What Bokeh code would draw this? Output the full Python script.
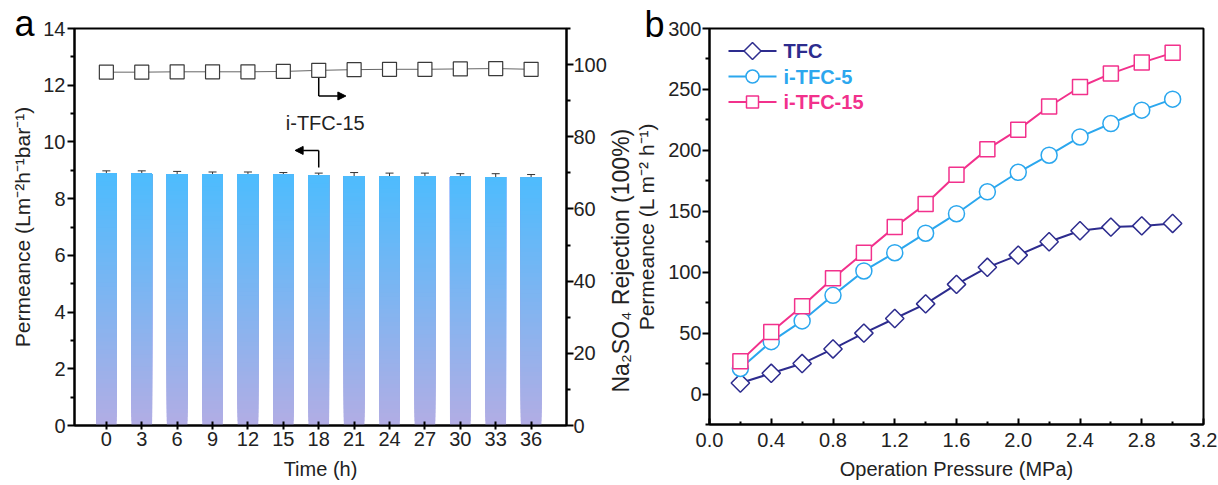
import math
from bokeh.plotting import figure
from bokeh.models import (Range1d, LinearAxis, FixedTicker, Whisker, TeeHead, Arrow,
                          NormalHead, Label, Title, ColumnDataSource, PrintfTickFormatter)
from bokeh.layouts import row
from bokeh.embed import file_html
from bokeh.resources import INLINE

# ---------------- data: panel a ----------------
time_h = [0, 3, 6, 9, 12, 15, 18, 21, 24, 27, 30, 33, 36]
permeance = [8.90, 8.88, 8.87, 8.86, 8.85, 8.84, 8.83, 8.80, 8.79, 8.78, 8.77, 8.76, 8.74]
permeance_err = [0.08, 0.10, 0.09, 0.08, 0.09, 0.08, 0.07, 0.12, 0.11, 0.12, 0.11, 0.12, 0.11]
rejection = [97.9, 97.9, 98.0, 98.0, 98.0, 98.1, 98.4, 98.6, 98.7, 98.7, 98.8, 98.9, 98.7]
rejection_err = [1.0, 1.0, 0.9, 1.0, 0.9, 1.0, 1.0, 1.1, 1.0, 1.1, 1.0, 0.0, 1.0]
time_ticks = [0, 3, 6, 9, 12, 15, 18, 21, 24, 27, 30, 33, 36]

# ---------------- data: panel b ----------------
pressure = [0.2, 0.4, 0.6, 0.8, 1.0, 1.2, 1.4, 1.6, 1.8, 2.0, 2.2, 2.4, 2.6, 2.8, 3.0]
tfc = [9, 17, 25, 37, 50, 62, 74, 90, 104, 114, 125, 134, 137, 138, 140]
tfc_err = [4, 4, 4, 4, 4, 4, 4, 4, 4, 4, 4, 4, 4, 4, 4]
itfc5 = [21, 43, 60, 81, 101, 116, 132, 148, 166, 182, 196, 211, 222, 233, 242]
itfc5_err = [3, 4, 4, 4, 4, 3, 4, 4, 4, 4, 3, 4, 4, 4, 4]
itfc15 = [27, 51, 72, 95, 116, 137, 156, 180, 201, 217, 236, 252, 263, 272, 280]
itfc15_err = [4, 4, 4, 4, 4, 4, 4, 4, 4, 4, 4, 4, 4, 4, 4]
series_names = ["TFC", "i-TFC-5", "i-TFC-15"]

FONT = "Liberation Sans"
TXT = "#222222"


def style_axis(ax, tick_out=7, tick_in=0, minor_out=4, minor_in=0):
    ax.axis_line_width = 2
    ax.axis_line_color = "black"
    ax.major_tick_line_color = "black"
    ax.major_tick_line_width = 2
    ax.minor_tick_line_color = "black"
    ax.minor_tick_line_width = 2
    ax.major_tick_out = tick_out
    ax.major_tick_in = tick_in
    ax.minor_tick_out = minor_out
    ax.minor_tick_in = minor_in
    ax.major_label_text_font = FONT
    ax.major_label_text_font_size = "20px"
    ax.major_label_text_color = TXT
    ax.axis_label_text_font = FONT
    ax.axis_label_text_font_size = "20px"
    ax.axis_label_text_font_style = "normal"
    ax.axis_label_text_color = TXT


# ================= panel a =================
FW_A, FH_A = 492, 397
pa = figure(frame_width=FW_A, frame_height=FH_A, output_backend="svg", toolbar_location=None,
            x_range=Range1d(-2.7, 39), y_range=Range1d(0, 14),
            min_border_left=74, min_border_right=41, min_border_top=28, min_border_bottom=60)
pa.extra_y_ranges = {"rej": Range1d(0, 110)}
pa.xgrid.visible = False
pa.ygrid.visible = False
pa.outline_line_color = "black"
pa.outline_line_width = 2
pa.background_fill_color = "white"
pa.border_fill_color = "white"

# panel letter
pa.title.text = "a"
pa.title.align = "left"
pa.title.offset = -60
pa.title.standoff = -30
pa.title.vertical_align = "bottom"
pa.title.text_font = FONT
pa.title.text_font_size = "36px"
pa.title.text_font_style = "normal"
pa.title.text_color = "black"

# gradient bars (stacked slices from each bar's own value)
bar_w = 1.75
top_col = (76, 188, 254)
bot_col = (178, 173, 228)
n_sl = 60
gmax = max(permeance)
gs = dict(left=[], right=[], bottom=[], top=[], color=[])
for t, v in zip(time_h, permeance):
    for i in range(n_sl):
        y0 = v * i / n_sl
        f = (v * (i + 0.5) / n_sl) / gmax
        c = tuple(int(round(b + (tc - b) * f)) for b, tc in zip(bot_col, top_col))
        gs["left"].append(t - bar_w / 2)
        gs["right"].append(t + bar_w / 2)
        gs["bottom"].append(y0)
        gs["top"].append(v)
        gs["color"].append("#%02x%02x%02x" % c)
pa.quad(left="left", right="right", bottom="bottom", top="top", fill_color="color",
        line_color=None, source=ColumnDataSource(gs))

src_a = ColumnDataSource(dict(t=time_h, p=permeance,
                              pu=[a + b for a, b in zip(permeance, permeance_err)],
                              pl=[a - b for a, b in zip(permeance, permeance_err)],
                              r=rejection,
                              ru=[a + b for a, b in zip(rejection, rejection_err)],
                              rl=[a - b for a, b in zip(rejection, rejection_err)]))
pa.add_layout(Whisker(base="t", upper="pu", lower="pl", source=src_a, line_color="#333333",
                      line_width=1, upper_head=TeeHead(size=8, line_color="#333333", line_width=1),
                      lower_head=TeeHead(size=8, line_color="#333333", line_width=1)))

pa.line("t", "r", source=src_a, y_range_name="rej", line_color="#666666", line_width=1)
pa.scatter("t", "r", source=src_a, y_range_name="rej", marker="square", size=14,
           fill_color="white", line_color="#3a3a3a", line_width=1.2)
pa.add_layout(Whisker(base="t", upper="ru", lower="rl", source=src_a, y_range_name="rej",
                      line_color="#3a3a3a", line_width=1,
                      upper_head=TeeHead(size=7, line_color="#3a3a3a", line_width=1),
                      lower_head=TeeHead(size=7, line_color="#3a3a3a", line_width=1)))

# axes
pa.xaxis.ticker = FixedTicker(ticks=time_ticks, minor_ticks=[])
pa.xaxis.axis_label = "Time (h)"
pa.yaxis.ticker = FixedTicker(ticks=list(range(0, 15, 2)), minor_ticks=list(range(1, 14, 2)))
pa.yaxis.axis_label = "Permeance (Lm\u207b\u00b2h\u207b\u00b9bar\u207b\u00b9)"
for ax in pa.xaxis:
    style_axis(ax, tick_out=4, tick_in=4, minor_out=0)
    ax.major_label_standoff = 2
    ax.axis_label_standoff = 9
for ax in pa.yaxis:
    style_axis(ax)
    ax.major_label_standoff = 2
    ax.axis_label_standoff = 6
    ax.axis_label_text_font_size = "21px"

ax_r = LinearAxis(y_range_name="rej",
                  ticker=FixedTicker(ticks=[0, 20, 40, 60, 80, 100],
                                     minor_ticks=[10, 30, 50, 70, 90, 110]))
style_axis(ax_r)
ax_r.major_label_standoff = 0
pa.add_layout(ax_r, "right")

# annotations a
pa.add_layout(Arrow(x_start=18, y_start=96.3, x_end=18, y_end=91.3, end=None,
                    y_range_name="rej", line_width=1.5, line_color="black"))
pa.add_layout(Arrow(x_start=18, y_start=91.3, x_end=20.3, y_end=91.3, y_range_name="rej",
                    line_width=1.5, line_color="black",
                    end=NormalHead(size=8, fill_color="black", line_color="black")))
pa.add_layout(Arrow(x_start=18, y_start=9.1, x_end=18, y_end=9.7, end=None,
                    line_width=1.5, line_color="black"))
pa.add_layout(Arrow(x_start=18, y_start=9.7, x_end=16.0, y_end=9.7,
                    line_width=1.5, line_color="black",
                    end=NormalHead(size=8, fill_color="black", line_color="black")))
pa.add_layout(Label(x=18.55, y=10.66, text="i-TFC-15", text_align="center",
                    text_baseline="middle", text_font=FONT, text_font_size="20px",
                    text_color=TXT))

# ================= panel b =================
FW_B, FH_B = 494, 396
XB0, XB1, YB0, YB1 = 0, 3.2, -25, 300
pb = figure(frame_width=FW_B, frame_height=FH_B, output_backend="svg", toolbar_location=None,
            x_range=Range1d(XB0, XB1), y_range=Range1d(YB0, YB1),
            min_border_left=99, min_border_right=15, min_border_top=27, min_border_bottom=61)
pb.xgrid.visible = False
pb.ygrid.visible = False
pb.outline_line_color = "black"
pb.outline_line_width = 2
pb.background_fill_color = "white"
pb.border_fill_color = "white"

pb.title.text = "b"
pb.title.align = "left"
pb.title.offset = -65
pb.title.standoff = -32
pb.title.vertical_align = "bottom"
pb.title.text_font = FONT
pb.title.text_font_size = "36px"
pb.title.text_font_style = "normal"
pb.title.text_color = "black"

px_x = FW_B / (XB1 - XB0)
px_y = FH_B / (YB1 - YB0)


def bx(px):  # pixel offset from frame left -> data x
    return XB0 + px / px_x


def by(px):  # pixel offset from frame top -> data y
    return YB1 - px / px_y


series = [
    (tfc, tfc_err, "#2d2c8e", "square", 13, math.pi / 4, 12),
    (itfc5, itfc5_err, "#2ba7ee", "circle", 16, 0.0, 13),
    (itfc15, itfc15_err, "#f2318c", "square", 15, 0.0, 12),
]
legend_rows_px = [22.5, 48, 73.5]
for name, (vals, errs, col, mk, sz, ang, lsz), ry in zip(series_names, series, legend_rows_px):
    s = ColumnDataSource(dict(x=pressure, y=vals,
                              u=[a + b for a, b in zip(vals, errs)],
                              l=[a - b for a, b in zip(vals, errs)]))
    pb.line("x", "y", source=s, line_color=col, line_width=2)
    pb.scatter("x", "y", source=s, marker=mk, size=sz, angle=ang, fill_color="white",
               line_color=col, line_width=1.5)
    pb.add_layout(Whisker(base="x", upper="u", lower="l", source=s, line_color=col,
                          line_width=1,
                          upper_head=TeeHead(size=8, line_color=col, line_width=1),
                          lower_head=TeeHead(size=8, line_color=col, line_width=1)))
    # legend entry (line - marker - line, coloured bold label)
    ly = by(ry)
    pb.segment(x0=[bx(19)], y0=[ly], x1=[bx(67)], y1=[ly], line_color=col, line_width=2)
    pb.scatter(x=[bx(43)], y=[ly], marker=mk, size=lsz, angle=ang, fill_color="white",
               line_color=col, line_width=1.5)
    pb.add_layout(Label(x=bx(74), y=ly, text=name, text_align="left", text_baseline="middle",
                        text_font=FONT, text_font_size="20px", text_font_style="bold",
                        text_color=col))

pb.xaxis.ticker = FixedTicker(ticks=[round(0.4 * i, 1) for i in range(9)],
                              minor_ticks=[round(0.2 + 0.4 * i, 1) for i in range(8)])
pb.xaxis.formatter = PrintfTickFormatter(format="%.1f")
pb.xaxis.axis_label = "Operation Pressure (MPa)"
pb.yaxis.ticker = FixedTicker(ticks=[0, 50, 100, 150, 200, 250, 300],
                              minor_ticks=[-25, 25, 75, 125, 175, 225, 275])
pb.yaxis.axis_label = "Permeance (L m\u207b\u00b2 h\u207b\u00b9)"
for ax in pb.xaxis:
    style_axis(ax, tick_out=0, tick_in=6, minor_out=0, minor_in=3)
    ax.major_label_standoff = 8
    ax.axis_label_standoff = 8
for ax in pb.yaxis:
    style_axis(ax, tick_out=7, minor_out=4)
    ax.major_label_standoff = 1
    ax.axis_label_standoff = 7
    ax.axis_label_text_font_size = "21px"

# rejection label of panel a's right axis, placed in the gap between the panels
pb.add_layout(Title(text="Na\u2082SO\u2084 Rejection (100%)", align="left", offset=32,
                    vertical_align="middle", standoff=-5, text_font=FONT,
                    text_font_size="23px", text_font_style="normal", text_color=TXT), "left")

layout = row(pa, pb)
open("out.html", "w").write(file_html(layout, INLINE))
